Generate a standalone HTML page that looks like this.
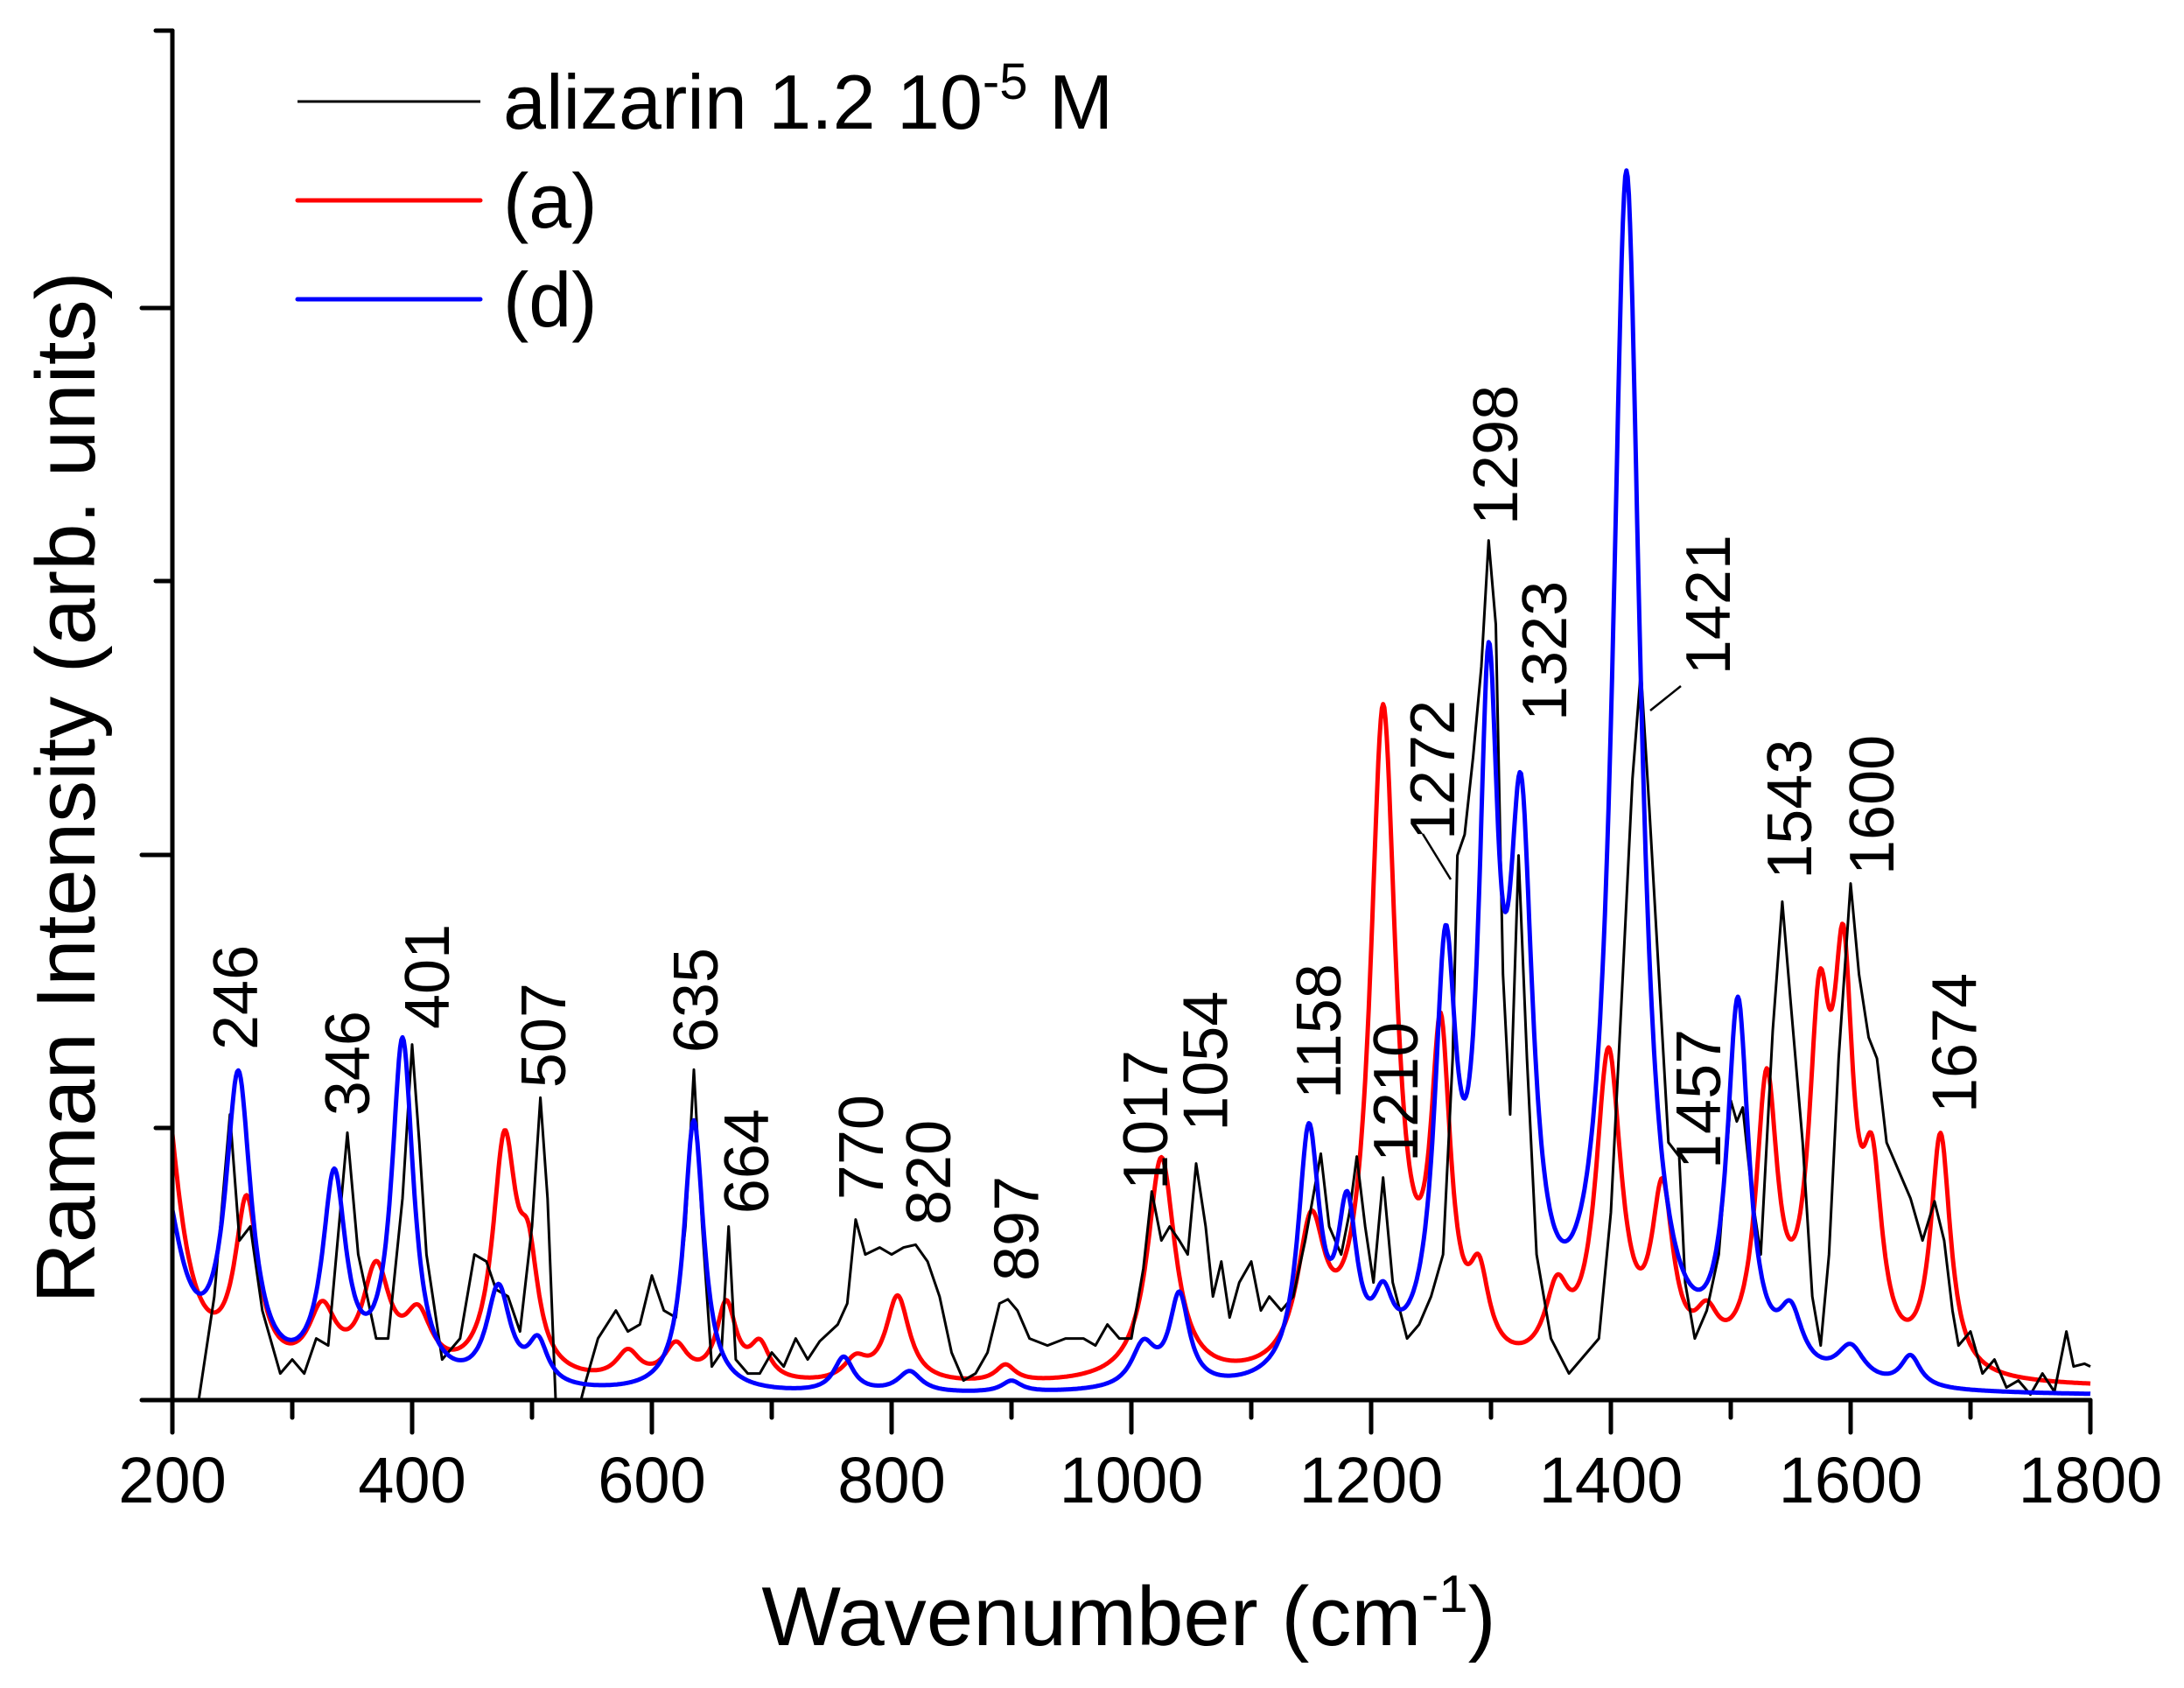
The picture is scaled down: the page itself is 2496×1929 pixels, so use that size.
<!DOCTYPE html>
<html><head><meta charset="utf-8"><style>
html,body{margin:0;padding:0;background:#fff}
svg{display:block}
text{font-family:"Liberation Sans",Arial,sans-serif;fill:#000}
</style></head><body>
<svg id="s" width="2496" height="1929" viewBox="0 0 2496 1929" xmlns="http://www.w3.org/2000/svg">
<defs><clipPath id="c"><rect x="197" y="0" width="2195" height="1600"/></clipPath></defs>
<g id="series" clip-path="url(#c)"></g>
<g stroke="#000" stroke-width="5" stroke-linecap="round" fill="none">
<line x1="197" y1="35" x2="197" y2="1600"/>
<line x1="162" y1="1600" x2="2389" y2="1600"/>
<line x1="178" y1="35" x2="197" y2="35"/>
<line x1="162" y1="352" x2="197" y2="352"/>
<line x1="178" y1="664" x2="197" y2="664"/>
<line x1="162" y1="977" x2="197" y2="977"/>
<line x1="178" y1="1289" x2="197" y2="1289"/>
<g id="xt"></g>
</g>
<g font-size="74" text-anchor="middle" id="xl"></g>
<text x="1290" y="1880" font-size="96" text-anchor="middle">Wavenumber (cm<tspan dy="-38" font-size="60">-1</tspan><tspan dy="38">)</tspan></text>
<text transform="translate(108,900) rotate(-90)" font-size="96" text-anchor="middle">Raman Intensity (arb. units)</text>
<line x1="340" y1="116" x2="549" y2="116" stroke="#000" stroke-width="3"/>
<line x1="340" y1="229" x2="549" y2="229" stroke="#f00" stroke-width="5" stroke-linecap="round"/>
<line x1="340" y1="342" x2="549" y2="342" stroke="#00f" stroke-width="5" stroke-linecap="round"/>
<text x="575" y="147" font-size="88">alizarin 1.2 10<tspan dy="-34" font-size="58">-5</tspan><tspan dy="34"> M</tspan></text>
<text x="575" y="260" font-size="88">(a)</text>
<text x="575" y="373" font-size="88">(d)</text>
<g id="pl" font-size="72"></g>
<g stroke="#000" stroke-width="2.5">
<line x1="1626" y1="953" x2="1658" y2="1005"/>
<line x1="1886" y1="812" x2="1921" y2="784"/>
</g>
</svg>
<script>
var NS="http://www.w3.org/2000/svg";
function X(w){return 197+(w-200)*1.37;}
function Y(d){return 1600-(1004-d)*1.6;}
function el(t,a,p){var e=document.createElementNS(NS,t);for(var k in a)e.setAttribute(k,a[k]);p.appendChild(e);return e;}
var xt=document.getElementById('xt'),xl=document.getElementById('xl');
for(var w=200;w<=1800;w+=100){var maj=(w%200==0);el('line',{x1:X(w),y1:1600,x2:X(w),y2:maj?1637:1620},xt);
 if(maj){var t=el('text',{x:X(w),y:1717},xl);t.textContent=w;}}
function lor(peaks,base,w){var s=base;for(var i=0;i<peaks.length;i++){var p=peaks[i];var d=(w-p[0])/p[2];s+=p[1]/(1+d*d);}return s;}
function path(fn,col,sw){var d="";for(var w=200;w<=1800;w+=1){var h=fn(w);d+=(w==200?"M":"L")+X(w).toFixed(1)+","+(1600-h*1.6).toFixed(1);}
 el('path',{d:d,stroke:col,'stroke-width':sw,fill:'none','stroke-linejoin':'round'},document.getElementById('series'));}
var red=[[190,230,18],[262,120,12],[325,45,14],[370,75,14],[405,40,14],[477,165,12],[497,70,10],[580,20,12],[620,25,12],[662,55,10],[690,25,10],[770,15,12],[805,62,12],[895,12,10],[1025,160,14],[1150,100,14],[1210,470,13],[1258,225,10],[1290,55,10],[1355,50,12],[1398,225,13],[1443,120,11],[1480,30,12],[1530,200,11],[1574,225,11],[1594,250,10],[1618,120,10],[1675,170,10]];
var blue=[[190,150,20],[255,215,13],[335,145,12],[392,245,11],[472,70,12],[505,30,10],[635,195,10],[760,25,10],[815,15,12],[900,8,10],[1010,30,12],[1040,65,10],[1148,175,11],[1180,110,10],[1210,40,10],[1262,280,11],[1298,440,10],[1325,360,12],[1413,860,14],[1506,260,11],[1550,40,12],[1600,25,14],[1650,22,10]];
path(function(w){return lor(red,8,w);},"#f00",5);
var bk=[[218,1020],[222,1004],[235,930],[248,800],[256,890],[265,880],[275,940],[290,985],[300,975],[310,985],[320,960],[330,965],[346,813],[355,900],[370,960],[380,960],[392,860],[400,750],[406,820],[412,900],[425,975],[440,960],[452,900],[462,905],[470,925],[480,930],[490,955],[500,880],[507,788],[513,860],[520,1010],[530,1040],[545,990],[555,960],[570,940],[580,955],[590,950],[600,915],[610,940],[620,945],[628,880],[635,768],[642,880],[650,980],[658,970],[664,880],[670,975],[680,985],[690,985],[700,970],[710,980],[720,960],[730,975],[740,962],[755,950],[763,935],[770,875],[778,900],[790,895],[800,900],[810,895],[820,893],[830,905],[840,930],[850,970],[860,990],[870,985],[880,970],[890,935],[897,932],[905,940],[915,960],[930,965],[945,960],[960,960],[970,965],[980,950],[990,960],[1000,960],[1010,910],[1017,855],[1025,890],[1032,880],[1040,890],[1047,900],[1054,835],[1062,880],[1068,930],[1075,905],[1082,945],[1090,920],[1100,905],[1108,940],[1115,930],[1125,940],[1135,930],[1145,890],[1158,828],[1165,880],[1175,900],[1182,870],[1188,830],[1195,880],[1202,920],[1210,845],[1218,920],[1230,960],[1240,950],[1250,930],[1260,900],[1268,760],[1272,615],[1278,600],[1285,545],[1292,480],[1298,390],[1304,450],[1310,700],[1316,800],[1323,615],[1330,760],[1338,900],[1350,960],[1365,985],[1375,975],[1390,960],[1400,870],[1410,700],[1418,560],[1425,483],[1432,580],[1440,700],[1448,820],[1457,830],[1462,920],[1470,960],[1480,940],[1490,900],[1500,790],[1505,805],[1510,795],[1518,860],[1525,900],[1535,740],[1543,648],[1550,720],[1560,820],[1568,930],[1575,965],[1582,900],[1590,760],[1600,635],[1607,700],[1615,745],[1622,760],[1630,820],[1640,840],[1650,860],[1660,890],[1670,862],[1678,890],[1685,940],[1690,965],[1700,955],[1710,985],[1720,975],[1730,995],[1740,990],[1750,1000],[1760,985],[1770,998],[1780,955],[1786,980],[1795,978],[1800,980]];
var d="";for(var i=0;i<bk.length;i++){d+=(i?"L":"M")+X(bk[i][0]).toFixed(1)+","+Y(bk[i][1]).toFixed(1);}
el('path',{d:d,stroke:"#000",'stroke-width':3,fill:'none','stroke-linejoin':'round'},document.getElementById('series'));
path(function(w){return lor(blue,2,w);},"#00f",5);
var pl=[["246",168,750],["346",248,797],["401",305,735],["507",388,777],["635",497,752],["664",533,867],["770",615,857],["820",663,875],["897",726,915],["1017",818,850],["1054",861,808],["1158",942,785],["1210",997,830],["1272",1023,600],["1298",1068,375],["1323",1103,515],["1421",1220,482],["1457",1213,835],["1543",1278,628],["1600",1337,625],["1674",1396,795]];
var g=document.getElementById('pl');
pl.forEach(function(p){var x=p[1]*1.6+25,y=p[2]*1.6;var t=el('text',{transform:'translate('+x+','+y+') rotate(-90)'},g);t.textContent=p[0];});
</script>
</body></html>
